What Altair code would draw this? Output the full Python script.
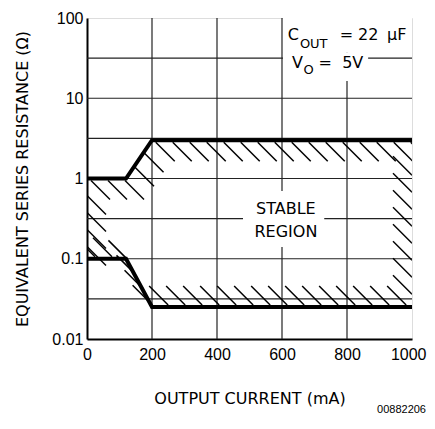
import altair as alt
import numpy as np
import pandas as pd

# ---- data ----
x_tick_values = [0, 200, 400, 600, 800, 1000]
y_tick_values = [0.01, 0.1, 1, 10, 100]
grid_x = [200, 400, 600, 800]
grid_y = [0.0316, 0.1, 0.316, 1, 3.16, 10, 31.6]
upper_x = [0, 120, 200, 1000]
upper_y = [1, 1, 3, 3]
lower_x = [0, 120, 200, 1000]
lower_y = [0.1, 0.1, 0.025, 0.025]

ann_main_text = ["C", "=", "22", "µF", "V", "=", "5V"]
ann_main_x = [618, 778, 834, 923, 631, 712, 785]
ann_main_y = [62, 62, 62, 62, 27.3, 27.3, 27.3]
ann_sub_text = ["OUT", "O"]
ann_sub_x = [655, 666]
ann_sub_y = [46.8, 22.4]
stable_text = ["STABLE", "REGION"]
stable_x = [612, 612]
stable_y = [0.417, 0.213]

W, H = 325, 321
FONT = "DejaVu Sans"
LABFONT = "Liberation Sans"

xs = alt.Scale(domain=[0, 1000], nice=False)
ys = alt.Scale(type="log", domain=[0.01, 100], nice=False)

# ---- hatching helpers (pixel space -> data space) ----
def to_px(x, y):
    return np.asarray(x) / 1000 * W, (2 - np.log10(np.asarray(y))) / 4 * H

def to_data(px, py):
    return np.asarray(px) / W * 1000, 10 ** (2 - np.asarray(py) / H * 4)

def along(xd, yd, step, start):
    px, py = to_px(xd, yd)
    seg = np.hypot(np.diff(px), np.diff(py))
    cum = np.concatenate([[0], np.cumsum(seg)])
    s = np.arange(start, cum[-1], step)
    return np.interp(s, cum, px), np.interp(s, cum, py)

rows = []
L = 19
hx, hy = along(upper_x, upper_y, 17, 4)
for a, b in zip(hx, hy):
    rows.append((a, b + 2, a + L, b + 2 + L))
hx, hy = along(lower_x, lower_y, 17, 8)
for a, b in zip(hx, hy):
    rows.append((a - L, b - 2 - L, a, b - 2))
_, top_r = to_px(1000, 3)
_, bot_r = to_px(1000, 0.025)
for b in np.arange(top_r + 35, bot_r - 12, 17):
    rows.append((W - L, b - L, W, b))
_, top_l = to_px(0, 1)
_, bot_l = to_px(0, 0.1)
for b in np.arange(top_l + 17, bot_l - 8, 17):
    rows.append((0, b, L, b + L))
hatch = []
for a, b, c, d in rows:
    x1, y1 = to_data(a, b)
    x2, y2 = to_data(c, d)
    hatch.append({"x": float(x1), "y": float(y1), "x2": float(x2), "y2": float(y2)})
hatch_df = pd.DataFrame(hatch)

# ---- layers ----
gx = alt.Chart(pd.DataFrame({"x": grid_x})).mark_rule(color="#222", strokeWidth=1.2).encode(
    x=alt.X("x:Q", scale=xs))
gy = alt.Chart(pd.DataFrame({"y": grid_y})).mark_rule(color="#222", strokeWidth=1.2).encode(
    y=alt.Y("y:Q", scale=ys))

boxes = pd.DataFrame({
    "x": [603, 603, 480], "x2": [1000, 865, 730],
    "y": [100, 37.3, 0.14], "y2": [37.3, 16.4, 0.7]})
box = alt.Chart(boxes).mark_rect(color="white").encode(
    x=alt.X("x:Q", scale=xs), x2="x2", y=alt.Y("y:Q", scale=ys), y2="y2")

hat = alt.Chart(hatch_df).mark_rule(color="black", strokeWidth=1.5, clip=True).encode(
    x=alt.X("x:Q", scale=xs), x2="x2", y=alt.Y("y:Q", scale=ys), y2="y2")

up = alt.Chart(pd.DataFrame({"x": upper_x, "y": upper_y})).mark_line(
    color="black", strokeWidth=4, clip=True).encode(
    x=alt.X("x:Q", scale=xs), y=alt.Y("y:Q", scale=ys))
lo = alt.Chart(pd.DataFrame({"x": lower_x, "y": lower_y})).mark_line(
    color="black", strokeWidth=4, clip=True).encode(
    x=alt.X("x:Q", scale=xs), y=alt.Y("y:Q", scale=ys))

t_main = alt.Chart(pd.DataFrame({"x": ann_main_x, "y": ann_main_y, "t": ann_main_text})).mark_text(
    font=FONT, fontSize=16, align="left", baseline="middle", color="black").encode(
    x=alt.X("x:Q", scale=xs), y=alt.Y("y:Q", scale=ys), text="t:N")
t_sub = alt.Chart(pd.DataFrame({"x": ann_sub_x, "y": ann_sub_y, "t": ann_sub_text})).mark_text(
    font=FONT, fontSize=13, align="left", baseline="middle", color="black").encode(
    x=alt.X("x:Q", scale=xs), y=alt.Y("y:Q", scale=ys), text="t:N")
t_stable = alt.Chart(pd.DataFrame({"x": stable_x, "y": stable_y, "t": stable_text})).mark_text(
    font=FONT, fontSize=16, align="center", baseline="middle", color="black").encode(
    x=alt.X("x:Q", scale=xs), y=alt.Y("y:Q", scale=ys), text="t:N")

code = alt.Chart(pd.DataFrame({"t": ["00882206"]})).mark_text(
    font=LABFONT, fontSize=11, align="right", baseline="middle", color="black").encode(
    x=alt.value(W + 14), y=alt.value(H + 71), text="t:N")

last_x = "datum.value == 1000"
axes = alt.Chart(pd.DataFrame({"x": [0], "y": [1]})).mark_point(opacity=0).encode(
    x=alt.X("x:Q", scale=xs, axis=alt.Axis(
        values=x_tick_values, format="d", grid=False, ticks=False, domainWidth=2,
        domainColor="black", labelFont=LABFONT, labelFontSize=16, labelColor="black",
        labelPadding=7, labelFlush=False,
        labelAlign={"condition": {"test": last_x, "value": "right"}, "value": "center"},
        labelOffset={"condition": {"test": last_x, "value": 14}, "value": 0},
        title="OUTPUT CURRENT (mA)", titleFont=FONT,
        titleFontSize=16, titleFontWeight="normal", titleColor="black", titleX=W / 2,
        titleY=59, titleBaseline="middle", titleAlign="center")),
    y=alt.Y("y:Q", scale=ys, axis=alt.Axis(
        values=y_tick_values, format="~g", grid=False, ticks=False, domainWidth=2,
        domainColor="black", labelFont=LABFONT, labelFontSize=16, labelColor="black",
        labelPadding=4, labelFlush=False, title="EQUIVALENT SERIES RESISTANCE (Ω)",
        titleFont=FONT, titleFontSize=16, titleFontWeight="normal", titleColor="black",
        titleX=-65, titleY=H / 2, titleAngle=270, titleBaseline="middle",
        titleAlign="center")))

chart = alt.layer(gx, gy, box, hat, up, lo, t_main, t_sub, t_stable, code, axes).properties(
    width=W, height=H,
    autosize=alt.AutoSizeParams(type="none"),
    padding={"left": 79, "top": 10, "right": 15, "bottom": 80},
).configure_view(stroke="black", strokeWidth=1.5).configure(background="white")

chart.save("out.html", embed_options={"renderer": "svg", "actions": False})
